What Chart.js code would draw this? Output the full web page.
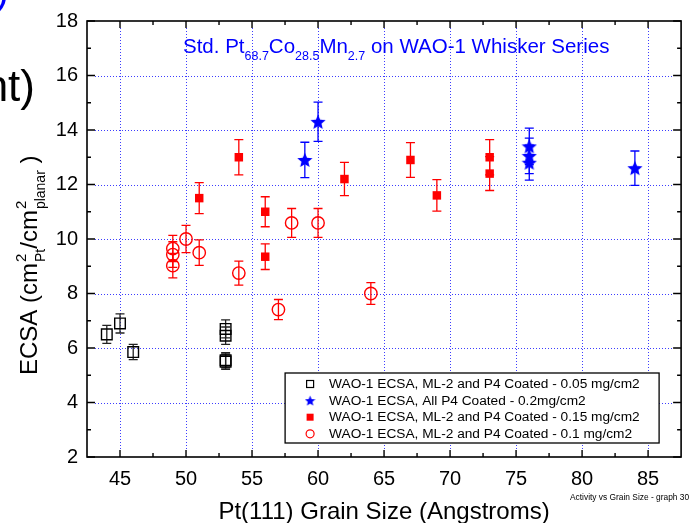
<!DOCTYPE html>
<html>
<head>
<meta charset="utf-8">
<script src="https://cdn.jsdelivr.net/npm/chart.js@4/dist/chart.umd.min.js"></script>
<style>
  html, body { margin: 0; padding: 0; background: #fff; }
  #wrap { width: 690px; height: 523px; }
</style>
</head>
<body>
<div id="wrap"><canvas id="chartEcsa" width="690" height="523"></canvas></div>
<script>
// ejes
const xTicks = [45, 50, 55, 60, 65, 70, 75, 80, 85];
const yTicks = [2, 4, 6, 8, 10, 12, 14, 16, 18];

// WAO-1 ECSA, ML-2 and P4 Coated - 0.05 mg/cm2
const x005 = [44, 45, 46, 53, 53, 53, 53];
const y005 = [6.5, 6.9, 5.85, 6.7, 6.45, 5.5, 5.55];
const e005 = [0.33, 0.35, 0.28, 0.33, 0.32, 0.28, 0.28];

// WAO-1 ECSA, All P4 Coated - 0.2mg/cm2
const x02 = [59, 60, 76, 76, 76, 84];
const y02 = [12.9, 14.3, 13.4, 13.05, 12.8, 12.6];
const e02 = [0.65, 0.72, 0.67, 0.65, 0.64, 0.63];

// WAO-1 ECSA, ML-2 and P4 Coated - 0.15 mg/cm2
const x015 = [51, 54, 56, 56, 62, 67, 69, 73, 73];
const y015 = [11.5, 13.0, 11.0, 9.35, 12.2, 12.9, 11.6, 13.0, 12.4];
const e015 = [0.57, 0.65, 0.55, 0.47, 0.61, 0.64, 0.58, 0.65, 0.62];

// WAO-1 ECSA, ML-2 and P4 Coated - 0.1 mg/cm2
const x01 = [49, 49, 49, 50, 51, 54, 57, 58, 60, 64];
const y01 = [9.65, 9.43, 9.02, 10.0, 9.5, 8.75, 7.41, 10.59, 10.59, 8.0];
const e01 = [0.48, 0.47, 0.45, 0.5, 0.47, 0.44, 0.37, 0.53, 0.53, 0.4];

const etiquetas = [
  'WAO-1 ECSA, ML-2 and P4 Coated - 0.05 mg/cm2',
  'WAO-1 ECSA, All P4 Coated - 0.2mg/cm2',
  'WAO-1 ECSA, ML-2 and P4 Coated - 0.15 mg/cm2',
  'WAO-1 ECSA, ML-2 and P4 Coated - 0.1 mg/cm2'
];

const FONT = '"Liberation Sans", Arial, sans-serif';
const AZUL = '#0000ff';
const ROJO = '#ff0000';

function puntos(xs, ys, es) {
  return xs.map((x, i) => ({ x: x, y: ys[i], e: es[i] }));
}

// estrella rellena de 5 puntas
function hacerEstrella(size, color) {
  const c = document.createElement('canvas');
  c.width = size; c.height = size;
  const g = c.getContext('2d');
  const cx = size / 2, cy = size / 2 + size * 0.04;
  const R = size / 2, r = R * 0.45;
  g.fillStyle = color;
  g.beginPath();
  for (let i = 0; i < 10; i++) {
    const a = -Math.PI / 2 + i * Math.PI / 5;
    const rad = i % 2 ? r : R;
    g.lineTo(cx + rad * Math.cos(a), cy + rad * Math.sin(a));
  }
  g.closePath();
  g.fill();
  return c;
}
const estrella = hacerEstrella(16, AZUL);
const estrellaChica = hacerEstrella(11, AZUL);

// rejilla punteada
const rejilla = {
  id: 'rejilla',
  beforeDatasetsDraw(chart) {
    const { ctx, chartArea: a, scales: { x, y } } = chart;
    ctx.save();
    ctx.strokeStyle = 'rgba(40,40,255,0.9)';
    ctx.lineWidth = 1;
    ctx.setLineDash([1, 2]);
    ctx.beginPath();
    xTicks.forEach(v => {
      const px = Math.round(x.getPixelForValue(v)) + 0.5;
      ctx.moveTo(px, a.top + 7); ctx.lineTo(px, a.bottom - 7);
    });
    yTicks.slice(1, -1).forEach(v => {
      const py = Math.round(y.getPixelForValue(v)) + 0.5;
      ctx.moveTo(a.left + 8, py); ctx.lineTo(a.right - 8, py);
    });
    ctx.stroke();
    ctx.restore();
  }
};

// barras de error
const barrasError = {
  id: 'barrasError',
  beforeDatasetsDraw(chart) {
    const { ctx, scales: { x, y } } = chart;
    chart.data.datasets.forEach(ds => {
      ctx.save();
      ctx.strokeStyle = ds.errColor;
      ctx.lineWidth = 1.3;
      ds.data.forEach(p => {
        const px = x.getPixelForValue(p.x);
        const top = y.getPixelForValue(p.y + p.e);
        const bot = y.getPixelForValue(p.y - p.e);
        ctx.beginPath();
        ctx.moveTo(px, top); ctx.lineTo(px, bot);
        ctx.moveTo(px - 4.5, top); ctx.lineTo(px + 4.5, top);
        ctx.moveTo(px - 4.5, bot); ctx.lineTo(px + 4.5, bot);
        ctx.stroke();
      });
      ctx.restore();
    });
  }
};

// marco, ticks internos, titulos y leyenda
const decoracion = {
  id: 'decoracion',
  beforeDraw(chart) {
    const ctx = chart.ctx;
    ctx.save();
    ctx.fillStyle = '#fff';
    ctx.fillRect(0, 0, chart.width, chart.height);
    ctx.restore();
  },
  afterDraw(chart) {
    const { ctx, chartArea: a, scales: { x, y } } = chart;
    ctx.save();

    // marco
    ctx.strokeStyle = '#000';
    ctx.lineWidth = 1.6;
    ctx.strokeRect(a.left, a.top, a.right - a.left, a.bottom - a.top);

    // ticks
    ctx.lineWidth = 1.4;
    ctx.beginPath();
    for (let i = 0; i < xTicks.length; i++) {
      const px = x.getPixelForValue(xTicks[i]);
      ctx.moveTo(px, a.bottom); ctx.lineTo(px, a.bottom - 7);
      ctx.moveTo(px, a.top); ctx.lineTo(px, a.top + 7);
      if (i < xTicks.length - 1) {
        const pm = x.getPixelForValue((xTicks[i] + xTicks[i + 1]) / 2);
        ctx.moveTo(pm, a.bottom); ctx.lineTo(pm, a.bottom - 4);
        ctx.moveTo(pm, a.top); ctx.lineTo(pm, a.top + 4);
      }
    }
    for (let i = 0; i < yTicks.length; i++) {
      const py = y.getPixelForValue(yTicks[i]);
      ctx.moveTo(a.left, py); ctx.lineTo(a.left + 8, py);
      ctx.moveTo(a.right, py); ctx.lineTo(a.right - 8, py);
      if (i < yTicks.length - 1) {
        const pm = y.getPixelForValue((yTicks[i] + yTicks[i + 1]) / 2);
        ctx.moveTo(a.left, pm); ctx.lineTo(a.left + 4, pm);
        ctx.moveTo(a.right, pm); ctx.lineTo(a.right - 4, pm);
      }
    }
    ctx.stroke();

    // titulo interno
    ctx.fillStyle = AZUL;
    ctx.textBaseline = 'alphabetic';
    ctx.textAlign = 'left';
    const partes = [
      ['Std. Pt', 0], ['68.7', 1], ['Co', 0], ['28.5', 1], ['Mn', 0], ['2.7', 1],
      [' on WAO-1 Whisker Series', 0]
    ];
    let tx = a.left + 96;
    const tb = a.top + 32;
    partes.forEach(([t, sub]) => {
      ctx.font = (sub ? '12.5px ' : '20.5px ') + FONT;
      ctx.fillText(t, tx, tb + (sub ? 7 : 0));
      tx += ctx.measureText(t).width;
    });

    // titulo eje y
    ctx.fillStyle = '#000';
    ctx.save();
    ctx.translate(37, 375);
    ctx.rotate(-Math.PI / 2);
    const py = [
      ['ECSA (cm', 0], ['2', -1], ['Pt', 1], ['/cm', 0], ['2', -1], ['planar', 1], [' )', 0]
    ];
    let yx = 0;
    let supAncho = 0;
    py.forEach(([t, k]) => {
      if (k === 0) {
        ctx.font = '24px ' + FONT;
        ctx.fillText(t, yx, 0);
        yx += ctx.measureText(t).width;
      } else if (k === -1) {
        ctx.font = '15px ' + FONT;
        ctx.fillText(t, yx + 1, -11);
        supAncho = ctx.measureText(t).width + 1;
      } else {
        ctx.font = '14px ' + FONT;
        ctx.fillText(t, yx + 1, 8);
        yx += Math.max(supAncho, ctx.measureText(t).width + 1);
      }
    });
    ctx.restore();

    // titulo eje x
    ctx.font = '24px ' + FONT;
    ctx.textAlign = 'center';
    ctx.fillText('Pt(111) Grain Size (Angstroms)', (a.left + a.right) / 2, 519);

    // texto pequeño
    ctx.font = '8.4px ' + FONT;
    ctx.textAlign = 'left';
    ctx.fillText('Activity vs Grain Size - graph 30', 570, 500);

    // restos de la diapositiva
    ctx.font = '44px ' + FONT;
    ctx.textAlign = 'right';
    ctx.fillText('nt)', 35, 101);
    ctx.fillStyle = AZUL;
    ctx.font = '40px ' + FONT;
    ctx.fillText(')', 9, 4);

    // leyenda
    const lx = a.right - 396, ly = a.bottom - 84;
    ctx.fillStyle = '#fff';
    ctx.fillRect(lx, ly, 374, 70);
    ctx.strokeStyle = '#000';
    ctx.lineWidth = 1.3;
    ctx.strokeRect(lx, ly, 374, 70);
    ctx.font = '13.7px ' + FONT;
    ctx.textAlign = 'left';
    ctx.textBaseline = 'middle';
    etiquetas.forEach((t, i) => {
      const ry = ly + 11 + i * 16.6;
      const mx = lx + 25;
      if (i === 0) {
        ctx.strokeStyle = '#000'; ctx.lineWidth = 1.2;
        ctx.strokeRect(mx - 3.5, ry - 3.5, 7, 7);
      } else if (i === 1) {
        ctx.drawImage(estrellaChica, mx - 5.5, ry - 5.5);
      } else if (i === 2) {
        ctx.fillStyle = ROJO;
        ctx.fillRect(mx - 3.5, ry - 3.5, 7, 7);
      } else {
        ctx.strokeStyle = ROJO; ctx.lineWidth = 1.2;
        ctx.beginPath(); ctx.arc(mx, ry, 4, 0, Math.PI * 2); ctx.stroke();
      }
      ctx.fillStyle = '#000';
      ctx.fillText(t, lx + 44, ry + 0.5);
    });

    ctx.restore();
  }
};

const canvasEcsa = document.getElementById('chartEcsa');
const ctxEcsa = canvasEcsa.getContext('2d');

new Chart(ctxEcsa, {
  type: 'scatter',
  data: {
    datasets: [
      {
        label: etiquetas[0],
        data: puntos(x005, y005, e005),
        pointStyle: 'rect',
        pointRadius: 7.5,
        borderColor: '#000',
        backgroundColor: 'rgba(0,0,0,0)',
        borderWidth: 1.4,
        errColor: '#222'
      },
      {
        label: etiquetas[1],
        data: puntos(x02, y02, e02),
        pointStyle: estrella,
        borderColor: AZUL,
        backgroundColor: AZUL,
        errColor: AZUL
      },
      {
        label: etiquetas[2],
        data: puntos(x015, y015, e015),
        pointStyle: 'rect',
        pointRadius: 6,
        borderColor: ROJO,
        backgroundColor: ROJO,
        borderWidth: 0,
        errColor: ROJO
      },
      {
        label: etiquetas[3],
        data: puntos(x01, y01, e01),
        pointStyle: 'circle',
        pointRadius: 6.2,
        borderColor: ROJO,
        backgroundColor: 'rgba(0,0,0,0)',
        borderWidth: 1.4,
        errColor: ROJO
      }
    ]
  },
  options: {
    responsive: false,
    animation: false,
    events: [],
    layout: { padding: { top: 17, right: 7, left: 0, bottom: 0 } },
    plugins: {
      legend: { display: false },
      tooltip: { enabled: false }
    },
    scales: {
      x: {
        type: 'linear',
        min: 42.5,
        max: 87.5,
        afterBuildTicks: s => { s.ticks = xTicks.map(v => ({ value: v })); },
        afterFit: s => { s.height = 66; },
        ticks: {
          color: '#000',
          padding: 10,
          maxRotation: 0,
          font: { family: FONT, size: 20 }
        },
        grid: { display: false, drawTicks: false },
        border: { display: false }
      },
      y: {
        type: 'linear',
        min: 2,
        max: 18,
        afterBuildTicks: s => { s.ticks = yTicks.map(v => ({ value: v })); },
        afterFit: s => { s.width = 87; },
        ticks: {
          color: '#000',
          padding: 9,
          font: { family: FONT, size: 20 }
        },
        grid: { display: false, drawTicks: false },
        border: { display: false }
      }
    }
  },
  plugins: [rejilla, barrasError, decoracion]
});
</script>
</body>
</html>
